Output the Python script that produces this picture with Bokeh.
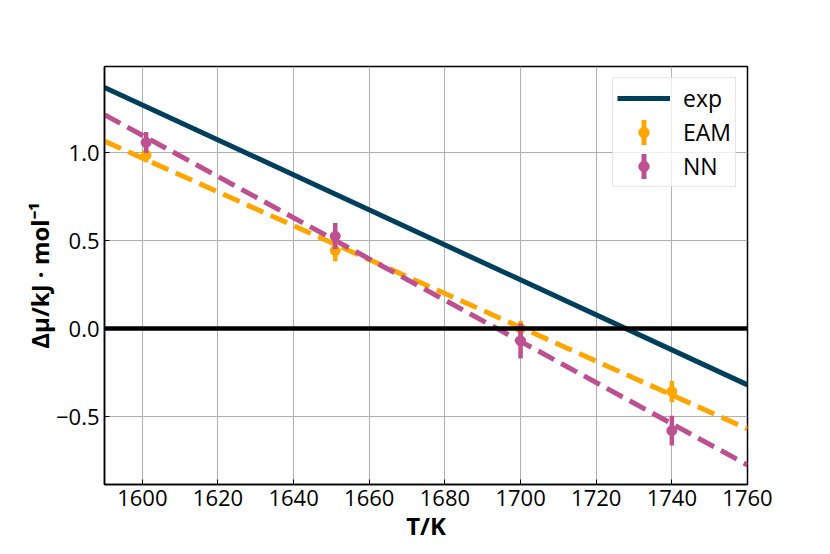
import numpy as np
from bokeh.plotting import figure
from bokeh.models import (ColumnDataSource, Legend, LegendItem, FixedTicker,
                          CustomJSTickFormatter, Span)
from bokeh.embed import file_html
from bokeh.resources import INLINE

# ---- data ----
T_line = [1590, 1760]
exp_mu = [1.37, -0.32]
eam_fit = [1.065, -0.57]
nn_fit = [1.215, -0.775]

T_pts = [1601, 1651, 1700, 1740]
eam_mu = [0.985, 0.443, 0.0, -0.358]
eam_err = [0.04, 0.06, 0.045, 0.06]
nn_mu = [1.057, 0.525, -0.07, -0.58]
nn_err = [0.06, 0.075, 0.1, 0.085]

x_ticks = [1600, 1620, 1640, 1660, 1680, 1700, 1720, 1740, 1760]
y_ticks = [-0.5, 0.0, 0.5, 1.0]
zero_level = 0.0

C_EXP = "#003f5c"
C_EAM = "#ffa600"
C_NN = "#bc5090"
FONT = "Open Sans"

p = figure(frame_width=643, frame_height=418,
           x_range=(1590, 1760), y_range=(-0.886, 1.489),
           output_backend="svg", toolbar_location=None,
           min_border_left=104, min_border_top=66,
           min_border_right=75, min_border_bottom=62)
p.background_fill_color = "white"
p.border_fill_color = "white"
p.outline_line_color = "black"
p.outline_line_width = 1.5

# grid
for g in (p.xgrid, p.ygrid):
    g.grid_line_color = "#b0b0b0"
    g.grid_line_width = 1

# axes
p.xaxis.ticker = FixedTicker(ticks=x_ticks)
p.yaxis.ticker = FixedTicker(ticks=y_ticks)
p.yaxis.formatter = CustomJSTickFormatter(code="return tick.toFixed(1).replace('-', '\u2212');")
for ax in (p.xaxis, p.yaxis):
    ax.major_tick_in = 5
    ax.major_tick_out = 0
    ax.minor_tick_in = 0
    ax.minor_tick_out = 0
    ax.axis_line_color = "black"
    ax.axis_line_width = 1.5
    ax.major_tick_line_color = "black"
    ax.major_label_text_font = FONT
    ax.major_label_text_font_size = "22px"
    ax.major_label_text_color = "black"
    ax.axis_label_text_font = FONT
    ax.axis_label_text_font_size = "24px"
    ax.axis_label_text_font_style = "bold"
    ax.axis_label_text_color = "black"
    ax.major_label_standoff = 5
p.xaxis.axis_label = "T/K"
p.yaxis.axis_label = "Δμ/kJ · mol⁻¹"
p.xaxis.axis_label_standoff = 0
p.yaxis.axis_label_standoff = -3

# exp line
r_exp = p.line(T_line, exp_mu, line_color=C_EXP, line_width=5)

# zero line
p.add_layout(Span(location=zero_level, dimension="width", line_color="black", line_width=4.5))

# fit lines
p.line(T_line, eam_fit, line_color=C_EAM, line_width=5, line_dash="18 8")
p.line(T_line, nn_fit, line_color=C_NN, line_width=5, line_dash="18 8")

def errbar(mu, err, color):
    src = ColumnDataSource(dict(
        x=T_pts, y=mu,
        lo=[m - e for m, e in zip(mu, err)],
        hi=[m + e for m, e in zip(mu, err)]))
    p.segment(x0="x", x1="x", y0="lo", y1="hi", source=src,
              line_color=color, line_width=4.5)
    pts = p.scatter(x="x", y="y", source=src, size=10, marker="circle",
                    fill_color=color, line_color=color)
    # legend proxy: zero-length segments (invisible in the plot); in the
    # legend the dash pattern leaves only a short, thick vertical bar
    proxy = p.segment(x0="x", x1="x", y0="y", y1="y", source=src,
                      line_color=color, line_width=25, line_cap="butt",
                      line_dash="0 24 5 100")
    return proxy, pts

eam_proxy, eam_pts = errbar(eam_mu, eam_err, C_EAM)
nn_proxy, nn_pts = errbar(nn_mu, nn_err, C_NN)

legend = Legend(items=[
    LegendItem(label="exp", renderers=[r_exp]),
    LegendItem(label="EAM", renderers=[eam_proxy, eam_pts]),
    LegendItem(label="NN", renderers=[nn_proxy, nn_pts]),
], location="top_right")
legend.margin = 11
legend.padding = 4
legend.spacing = 2
legend.glyph_width = 53
legend.glyph_height = 26
legend.label_height = 26
legend.label_standoff = 13
legend.label_text_font = FONT
legend.label_text_font_size = "23px"
legend.label_text_color = "black"
legend.border_line_color = "#d0d0d0"
legend.border_line_width = 1
legend.background_fill_color = "white"
legend.background_fill_alpha = 0.8
p.add_layout(legend)

open("out.html", "w").write(file_html(p, INLINE))
